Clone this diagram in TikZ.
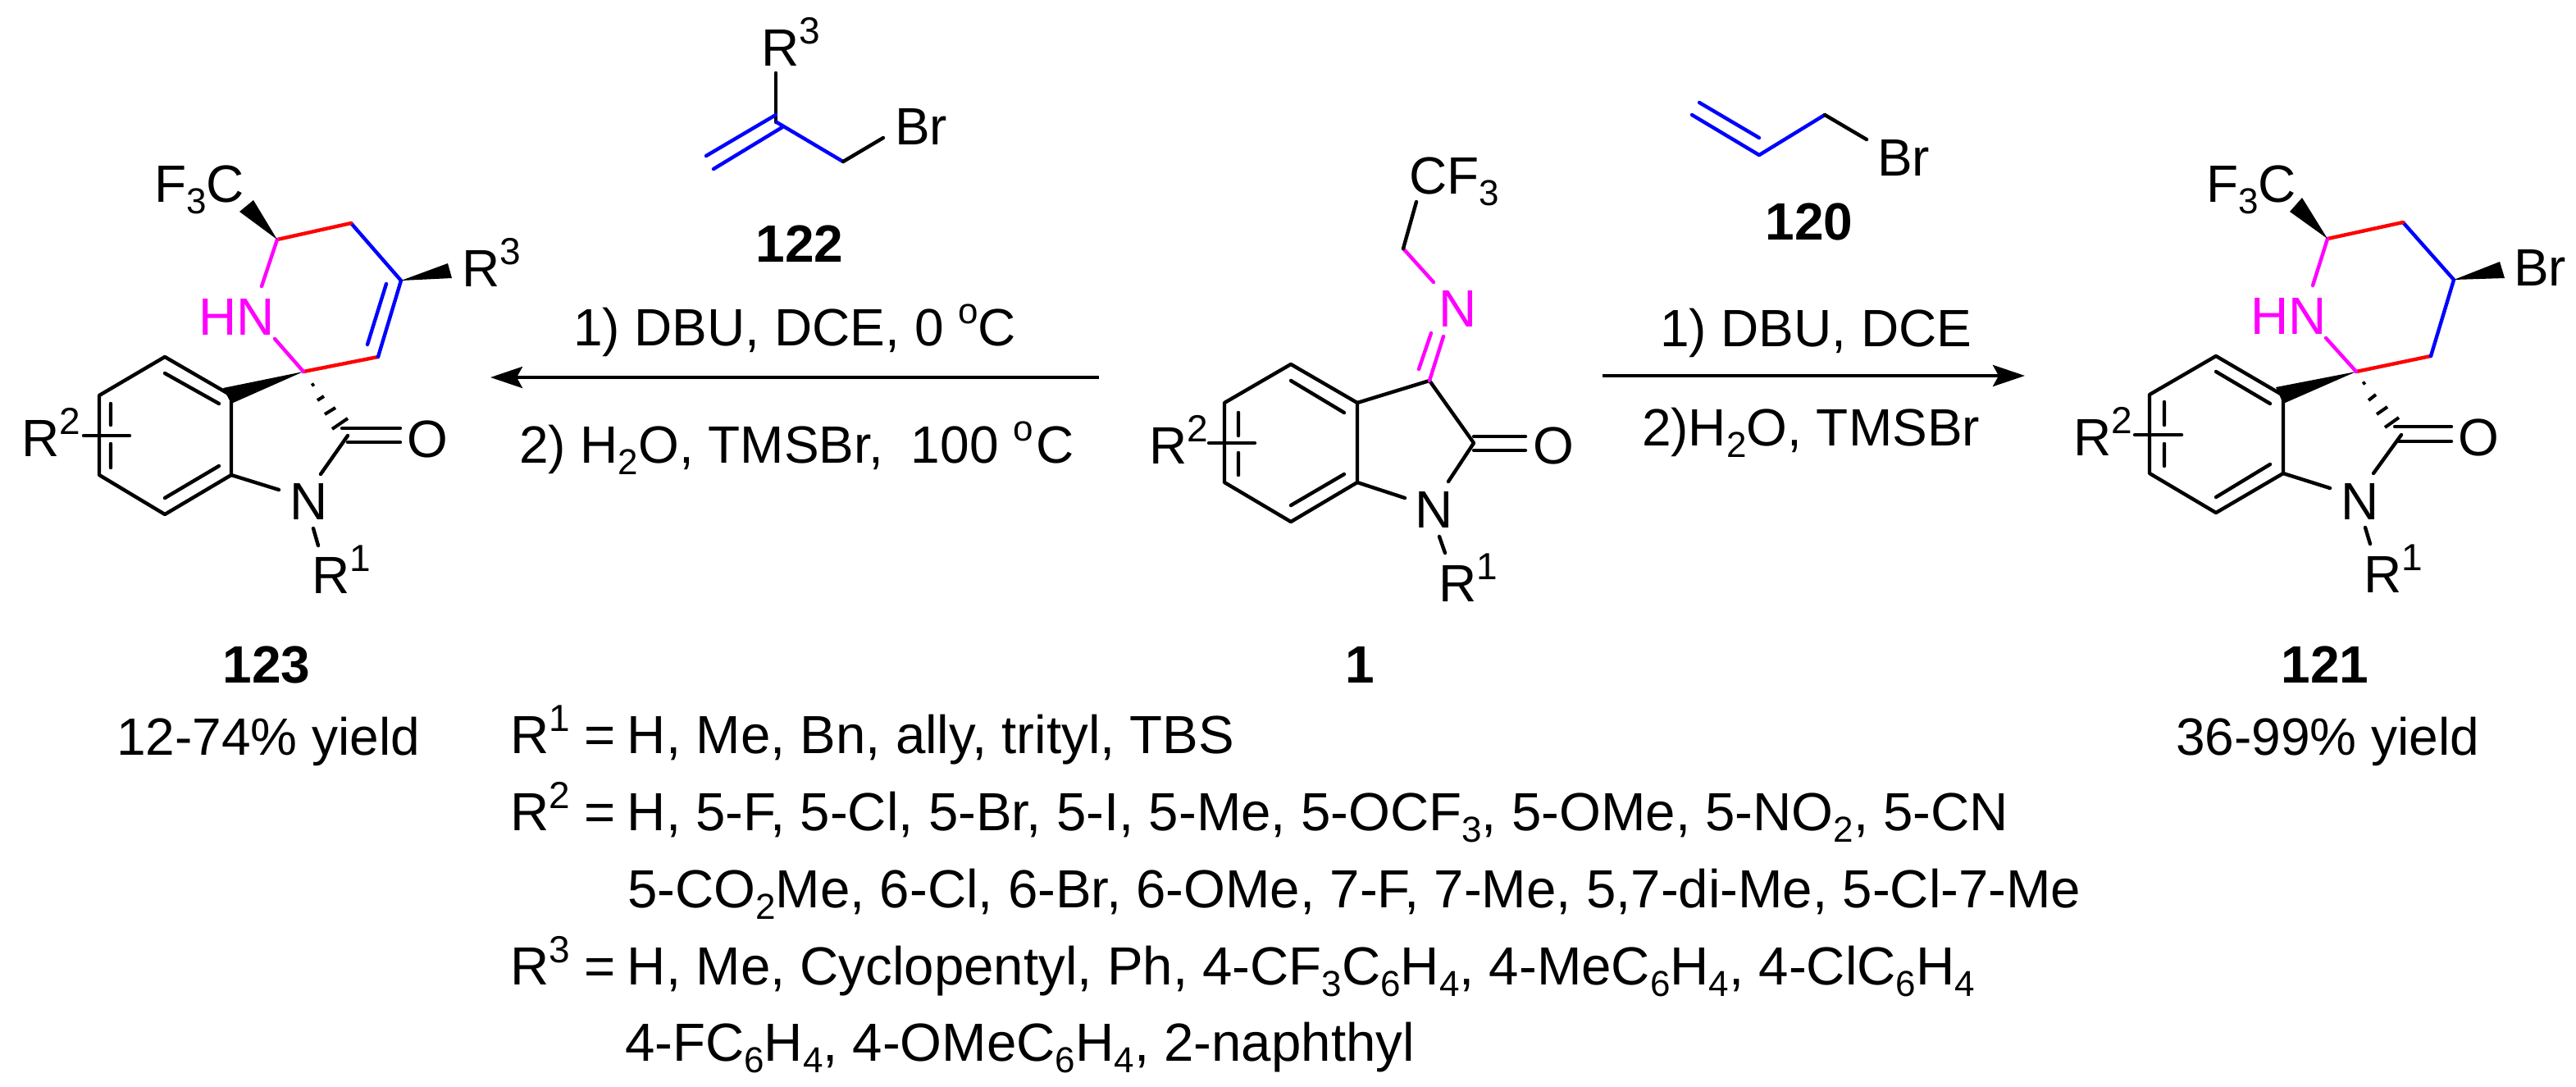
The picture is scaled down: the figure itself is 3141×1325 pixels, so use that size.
\documentclass[tikz,border=0pt]{standalone}
\usepackage{fontspec}
\setmainfont{Liberation Sans}
\usetikzlibrary{arrows.meta}
\definecolor{bondred}{RGB}{255,0,0}
\definecolor{bondblue}{RGB}{0,0,255}
\definecolor{bondmag}{RGB}{255,0,255}
\newcommand\upx[1]{\raisebox{27pt}{\fontsize{46}{50}\selectfont #1}}
\newcommand\dnx[1]{\raisebox{-14pt}{\fontsize{44}{50}\selectfont #1}}
\newcommand\degx{\raisebox{27pt}{\fontsize{44}{50}\selectfont o}}
\tikzset{
  x=1pt,y=-1pt,
  bond/.style={line width=4.4pt,line cap=round,line join=round,black},
  rb/.style={bond,bondred},
  bb/.style={bond,bondblue},
  mb/.style={bond,bondmag},
  wedge/.style={fill=black,draw=none},
  hash/.style={line width=4pt,black},
  lbl/.style={anchor=base west,inner sep=0pt,outer sep=0pt,font=\fontsize{64}{70}\selectfont},
  listlbl/.style={lbl,font=\fontsize{65.4}{70}\selectfont},
  cpd/.style={anchor=base,inner sep=0pt,outer sep=0pt,font=\fontsize{64}{70}\selectfont\bfseries},
  rarrow/.style={line width=4pt,-{Stealth[length=39pt,width=26pt,inset=7pt]}},
}
\begin{document}
\begin{tikzpicture}
\useasboundingbox[fill=white] (0,0) rectangle (3141,1325);

%% ---- Compound 123 (left) ----
\draw[bond] (201,435)--(282,482)--(282,579)--(201,627)--(121,579)--(121,482)--cycle;
\draw[bond] (201,455)--(267,492) (201,607)--(267,568) (135,492)--(135,518) (135,541)--(135,570);
\draw[bond] (102,531)--(158,531);
\fill[wedge] (370,453)--(272,473)--(282,492)--cycle;
\draw[hash] (380,470)--(383,468) (387,488)--(395,483) (396,505)--(409,497) (405,523)--(424,510);
\draw[rb] (370,453)--(461,435);
\draw[bb] (461,435)--(489,342)--(428,272);
\draw[bb] (471,346)--(448,420);
\draw[rb] (428,272)--(338,292);
\draw[mb] (338,292)--(319,349);
\draw[mb] (335,413)--(370,453);
\fill[wedge] (338,292)--(292,258)--(309,244)--cycle;
\fill[wedge] (489,342)--(546,321)--(551,339)--cycle;
\draw[bond] (417,522)--(488,522) (424,539)--(488,539);
\draw[bond] (424,531)--(391,578);
\draw[bond] (282,579)--(340,597);
\draw[bond] (382,644)--(388,665);
\node[lbl] (fc) at (188,246) {F\dnx{3}C};
\node[lbl,text=bondmag] (hn) at (242,408) {HN};
\node[lbl] (rc) at (563,349) {R\upx{3}};
\node[lbl] (oc) at (496,557) {O};
\node[lbl] (nc) at (353,633) {N};
\node[lbl] (rac) at (380,723) {R\upx{1}};
\node[lbl] (rbc) at (26,556) {R\upx{2}};
\node[cpd] (n123) at (325,832) {123};
\node[lbl] (y123) at (142,920) {12-74\% yield};

%% ---- Reagent 122 ----
\draw[bond] (946,89)--(946,149);
\draw[bb] (861,190)--(946,140) (870,206)--(954,155) (947,149)--(1028,197);
\draw[bond] (1028,197)--(1077,168);
\node[lbl] (r122) at (928,80) {R\upx{3}};
\node[lbl] (br122) at (1091,176) {Br};
\node[cpd] (n122) at (975,319) {122};

%% ---- Left arrow ----
\coordinate (la) at (1340,460);
\coordinate (lb) at (598,460);
\draw[rarrow] (la)--(lb);
\node[lbl] (c1l) at (699,421) {1) DBU, DCE, 0 \degx C};
\node[lbl] (c2l) at (633,564) {2) H\dnx{2}O, TMSBr,\hspace{16pt} 100 \degx\hspace{4pt}C};

%% ---- Compound 1 (centre) ----
\draw[bond] (1574,444)--(1655,491)--(1655,588)--(1574,636)--(1493,588)--(1493,491)--cycle;
\draw[bond] (1574,464)--(1639,503) (1574,616)--(1639,578) (1510,503)--(1510,531) (1510,552)--(1510,579);
\draw[bond] (1474,540)--(1530,540);
\draw[bond] (1655,491)--(1743,464)--(1797,540)--(1766,587);
\draw[bond] (1797,532)--(1860,532) (1797,549)--(1860,549);
\draw[bond] (1655,588)--(1713,607);
\draw[bond] (1755,654)--(1762,674);
\draw[mb] (1743,464)--(1760,410) (1730,450)--(1745,406);
\draw[mb] (1748,344)--(1711,303);
\draw[bond] (1711,303)--(1727,246);
\node[lbl] (cf) at (1718,236) {CF\dnx{3}};
\node[lbl,text=bondmag] (n1im) at (1754,398) {N};
\node[lbl] (o1) at (1869,565) {O};
\node[lbl] (n1) at (1725,643) {N};
\node[lbl] (ra1) at (1754,733) {R\upx{1}};
\node[lbl] (rb1) at (1401,565) {R\upx{2}};
\node[cpd] (n1lab) at (1658,832) {1};

%% ---- Reagent 120 ----
\draw[bb] (2063,140)--(2145,189)--(2225,140) (2072,125)--(2145,168);
\draw[bond] (2225,140)--(2276,170);
\node[lbl] (br120) at (2289,214) {Br};
\node[cpd] (n120) at (2206,292) {120};

%% ---- Right arrow ----
\coordinate (ra) at (1954,458);
\coordinate (rb) at (2469,458);
\draw[rarrow] (ra)--(rb);
\node[lbl] (c1r) at (2024,422) {1) DBU, DCE};
\node[lbl] (c2r) at (2002,543) {2)H\dnx{2}O, TMSBr};

%% ---- Compound 121 (right) ----
\draw[bond] (2702,434)--(2784,482)--(2784,577)--(2702,625)--(2621,577)--(2621,481)--cycle;
\draw[bond] (2702,453)--(2768,492) (2702,606)--(2768,566) (2639,490)--(2639,518) (2639,541)--(2639,568);
\draw[bond] (2603,530)--(2660,530);
\fill[wedge] (2873,453)--(2775,472)--(2784,492)--cycle;
\draw[hash] (2881,468)--(2884,466) (2888,488)--(2897,481) (2898,505)--(2911,496) (2908,521)--(2925,509);
\draw[rb] (2873,453)--(2964,434);
\draw[bb] (2964,434)--(2992,341)--(2930,271);
\draw[rb] (2930,271)--(2838,291);
\draw[mb] (2838,291)--(2820,348);
\draw[mb] (2836,412)--(2873,453);
\fill[wedge] (2838,291)--(2792,258)--(2807,241)--cycle;
\fill[wedge] (2992,341)--(3048,319)--(3054,339)--cycle;
\draw[bond] (2920,520)--(2989,520) (2925,538)--(2989,538);
\draw[bond] (2928,530)--(2894,577);
\draw[bond] (2784,577)--(2841,595);
\draw[bond] (2884,643)--(2890,663);
\node[lbl] (fr) at (2690,246) {F\dnx{3}C};
\node[lbl,text=bondmag] (hnr) at (2744,407) {HN};
\node[lbl] (brr) at (3065,348) {Br};
\node[lbl] (or) at (2997,555) {O};
\node[lbl] (nr) at (2854,633) {N};
\node[lbl] (rar) at (2882,722) {R\upx{1}};
\node[lbl] (rbr) at (2528,555) {R\upx{2}};
\node[cpd] (n121) at (2835,832) {121};
\node[lbl] (y121) at (2653,920) {36-99\% yield};

%% ---- Substituent list ----
\node[listlbl] (l1) at (622,918) {\makebox[143pt][l]{R\upx{1} =}H, Me, Bn, ally, trityl, TBS};
\node[listlbl] (l2) at (622,1012) {\makebox[143pt][l]{R\upx{2} =}H, 5-F, 5-Cl, 5-Br, 5-I, 5-Me, 5-OCF\dnx{3}, 5-OMe, 5-NO\dnx{2}, 5-CN};
\node[listlbl] (l3) at (765,1106) {5-CO\dnx{2}Me, 6-Cl, 6-Br, 6-OMe, 7-F, 7-Me, 5,7-di-Me, 5-Cl-7-Me};
\node[listlbl] (l4) at (622,1200) {\makebox[143pt][l]{R\upx{3} =}H, Me, Cyclopentyl, Ph, 4-CF\dnx{3}C\dnx{6}H\dnx{4}, 4-MeC\dnx{6}H\dnx{4}, 4-ClC\dnx{6}H\dnx{4}};
\node[listlbl] (l5) at (762,1293) {4-FC\dnx{6}H\dnx{4}, 4-OMeC\dnx{6}H\dnx{4}, 2-naphthyl};
\end{tikzpicture}
\end{document}
